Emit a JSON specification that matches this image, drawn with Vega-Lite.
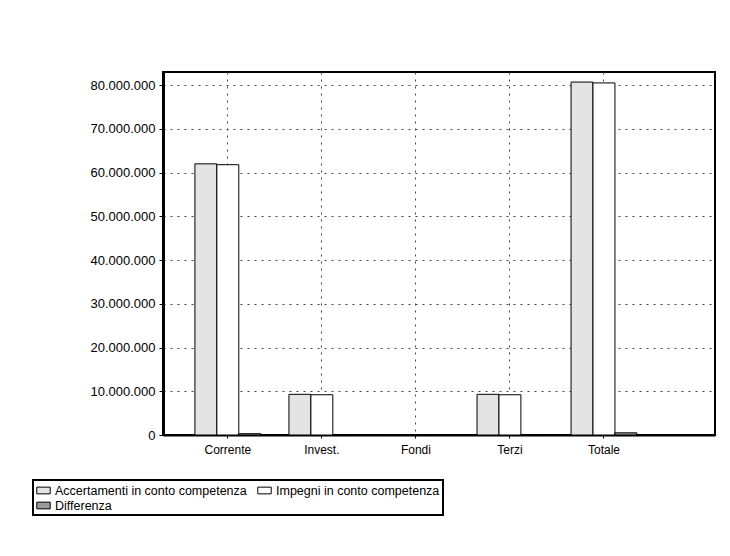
{
  "$schema": "https://vega.github.io/schema/vega-lite/v6.json",
  "width": 552,
  "height": 363,
  "autosize": {"type": "none"},
  "padding": {"left": 163, "top": 72, "right": 15, "bottom": 121},
  "background": "white",
  "data": {
    "values": [
      {"voce": "Corrente", "serie": "Accertamenti in conto competenza", "valore": 62000000},
      {"voce": "Corrente", "serie": "Impegni in conto competenza", "valore": 61800000},
      {"voce": "Corrente", "serie": "Differenza", "valore": 300000},
      {"voce": "Invest.", "serie": "Accertamenti in conto competenza", "valore": 9300000},
      {"voce": "Invest.", "serie": "Impegni in conto competenza", "valore": 9200000},
      {"voce": "Invest.", "serie": "Differenza", "valore": 100000},
      {"voce": "Fondi", "serie": "Accertamenti in conto competenza", "valore": 50000},
      {"voce": "Fondi", "serie": "Impegni in conto competenza", "valore": 50000},
      {"voce": "Fondi", "serie": "Differenza", "valore": 0},
      {"voce": "Terzi", "serie": "Accertamenti in conto competenza", "valore": 9300000},
      {"voce": "Terzi", "serie": "Impegni in conto competenza", "valore": 9200000},
      {"voce": "Terzi", "serie": "Differenza", "valore": 100000},
      {"voce": "Totale", "serie": "Accertamenti in conto competenza", "valore": 80700000},
      {"voce": "Totale", "serie": "Impegni in conto competenza", "valore": 80500000},
      {"voce": "Totale", "serie": "Differenza", "valore": 500000}
    ]
  },
  "mark": {"type": "bar", "stroke": "black", "strokeWidth": 1},
  "encoding": {
    "x": {
      "field": "voce",
      "type": "nominal",
      "sort": ["Corrente", "Invest.", "Fondi", "Terzi", "Totale"],
      "scale": {"paddingInner": 0.3, "paddingOuter": 0.585, "align": 0.29},
      "axis": {
        "title": null,
        "labelAngle": 0,
        "labelFont": "Liberation Sans",
        "labelFontSize": 12,
        "labelColor": "black",
        "labelPadding": 6,
        "domainColor": "black",
        "domainWidth": 2,
        "tickColor": "black",
        "tickSize": 3,
        "grid": true,
        "gridColor": "#444",
        "gridDash": [2, 5],
        "gridWidth": 1
      }
    },
    "xOffset": {
      "field": "serie",
      "sort": ["Accertamenti in conto competenza", "Impegni in conto competenza", "Differenza"]
    },
    "y": {
      "field": "valore",
      "type": "quantitative",
      "scale": {"domain": [0, 83000000], "nice": false},
      "axis": {
        "title": null,
        "values": [0, 10000000, 20000000, 30000000, 40000000, 50000000, 60000000, 70000000, 80000000],
        "format": ",d",
        "labelFont": "Liberation Sans",
        "labelFontSize": 13,
        "labelColor": "black",
        "labelPadding": 4,
        "domainColor": "black",
        "domainWidth": 3,
        "tickColor": "black",
        "tickSize": 4,
        "grid": true,
        "gridColor": "#444",
        "gridDash": [2, 5],
        "gridWidth": 1
      }
    },
    "fill": {
      "field": "serie",
      "type": "nominal",
      "sort": ["Accertamenti in conto competenza", "Impegni in conto competenza", "Differenza"],
      "scale": {
        "domain": ["Accertamenti in conto competenza", "Impegni in conto competenza", "Differenza"],
        "range": ["#e4e4e4", "#ffffff", "#9a9a9a"]
      },
      "legend": {
        "title": null,
        "orient": "none",
        "legendX": -130,
        "legendY": 408,
        "direction": "horizontal",
        "columns": 2,
        "columnPadding": 8,
        "rowPadding": 1,
        "symbolType": "M-1,-0.5H1V0.5H-1Z",
        "symbolSize": 180,
        "symbolStrokeColor": "black",
        "symbolStrokeWidth": 1,
        "labelFont": "Liberation Sans",
        "labelFontSize": 12.5,
        "labelColor": "black",
        "labelLimit": 300,
        "fillColor": "white",
        "strokeColor": "black",
        "padding": 3,
        "encode": {"legend": {"update": {"strokeWidth": {"value": 2}}}}
      }
    }
  },
  "config": {
    "locale": {
      "number": {"decimal": ",", "thousands": ".", "grouping": [3], "currency": ["€", ""]}
    },
    "view": {"stroke": "black", "strokeWidth": 2}
  }
}
